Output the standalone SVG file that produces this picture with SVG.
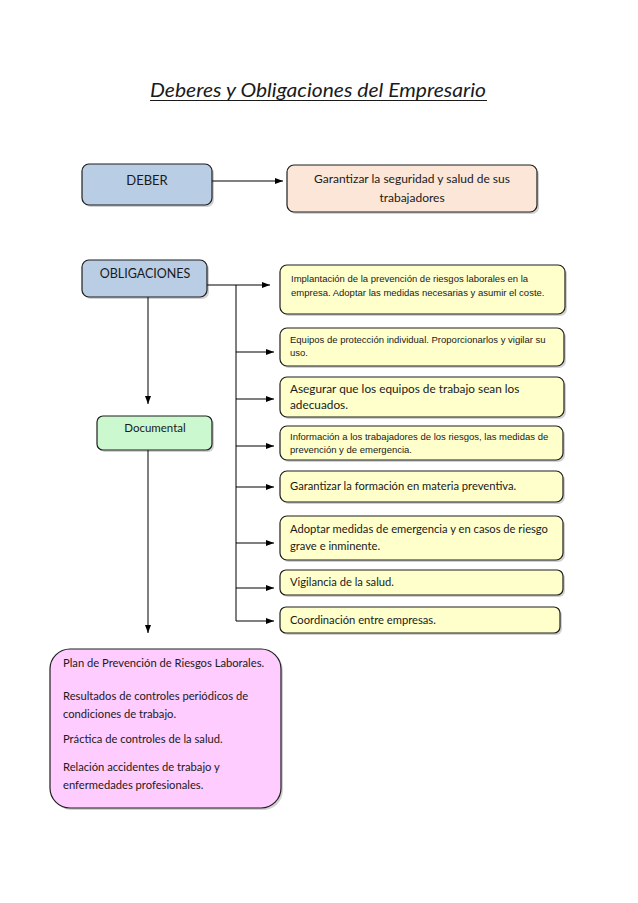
<svg xmlns="http://www.w3.org/2000/svg" width="638" height="903" viewBox="0 0 638 903">
<style>
.box{stroke:#1e1e1e;stroke-width:1.2}
.sh{fill:#000;opacity:0.18}
.blue{fill:#b9cde4}
.peach{fill:#fce6d8}
.yel{fill:#ffffcc}
.green{fill:#ccf8cf}
.pink{fill:#ffccff}
.cal{font-family:Lato,"Open Sans","Liberation Sans",sans-serif;fill:#1a1a1a}
.ari{font-family:"Liberation Sans",Arial,sans-serif;fill:#1a1a1a;font-size:9.5px}
.c11{font-size:11.2px}
.c115{font-size:11.8px}
.c12{font-size:12.5px}
.ln{fill:none;stroke:#000;stroke-width:1}
</style>
<defs>
<marker id="ah" markerWidth="8" markerHeight="6" refX="8" refY="3" orient="auto" markerUnits="userSpaceOnUse">
<path d="M0,0 L8,3 L0,6 Z" fill="#000"/>
</marker>
</defs>
<rect width="638" height="903" fill="#fff"/>
<g id="title">
<text x="318" y="97" text-anchor="middle" font-family="Lato,'Open Sans',sans-serif" font-style="italic" font-size="19" fill="#1a1a1a" textLength="336" lengthAdjust="spacingAndGlyphs">Deberes y Obligaciones del Empresario</text>
<line x1="150" y1="100.5" x2="487" y2="100.5" stroke="#1a1a1a" stroke-width="1"/>
</g>
<g id="connectors">
<line class="ln" x1="212" y1="181" x2="283" y2="181" marker-end="url(#ah)"/>
<line class="ln" x1="207" y1="285" x2="270" y2="285" marker-end="url(#ah)"/>
<line class="ln" x1="236" y1="285" x2="236" y2="621"/>
<line class="ln" x1="236" y1="352" x2="274" y2="352" marker-end="url(#ah)"/>
<line class="ln" x1="236" y1="399" x2="274" y2="399" marker-end="url(#ah)"/>
<line class="ln" x1="236" y1="446" x2="274" y2="446" marker-end="url(#ah)"/>
<line class="ln" x1="236" y1="487" x2="274" y2="487" marker-end="url(#ah)"/>
<line class="ln" x1="236" y1="543" x2="274" y2="543" marker-end="url(#ah)"/>
<line class="ln" x1="236" y1="588" x2="274" y2="588" marker-end="url(#ah)"/>
<line class="ln" x1="236" y1="621" x2="274" y2="621" marker-end="url(#ah)"/>
<line class="ln" x1="148" y1="297" x2="148" y2="404" marker-end="url(#ah)"/>
<line class="ln" x1="148" y1="450" x2="148" y2="633" marker-end="url(#ah)"/>
</g>
<g id="deber">
<rect class="sh" x="84" y="166" width="130" height="41" rx="7"/>
<rect class="box blue" x="82" y="164" width="130" height="41" rx="7"/>
<text class="cal" font-size="13" x="147" y="185" text-anchor="middle">DEBER</text>
</g>
<g id="garantizar">
<rect class="sh" x="289" y="167" width="250" height="47" rx="7"/>
<rect class="box peach" x="287" y="165" width="250" height="47" rx="7"/>
<text class="cal" font-size="12" x="412" y="183" text-anchor="middle">Garantizar la seguridad y salud de sus</text>
<text class="cal" font-size="12" x="412" y="202" text-anchor="middle">trabajadores</text>
</g>
<g id="obligaciones">
<rect class="sh" x="84" y="262" width="125" height="37" rx="7"/>
<rect class="box blue" x="82" y="260" width="125" height="37" rx="7"/>
<text class="cal c12" x="145" y="278" text-anchor="middle">OBLIGACIONES</text>
</g>
<g id="documental">
<rect class="sh" x="99" y="418" width="115" height="34" rx="6"/>
<rect class="box green" x="97" y="416" width="115" height="34" rx="6"/>
<text class="cal" font-size="11.5" x="155" y="432" text-anchor="middle">Documental</text>
</g>
<g id="o1">
<rect class="sh" x="282" y="267" width="285" height="49" rx="7"/>
<rect class="box yel" x="280" y="265" width="285" height="49" rx="7"/>
<text class="ari" x="291" y="282">Implantación de la prevención de riesgos laborales en la</text>
<text class="ari" x="291" y="296">empresa. Adoptar las medidas necesarias y asumir el coste.</text>
</g>
<g id="o2">
<rect class="sh" x="282" y="330" width="284" height="38" rx="7"/>
<rect class="box yel" x="280" y="328" width="284" height="38" rx="7"/>
<text class="ari" x="290" y="343">Equipos de protección individual. Proporcionarlos y vigilar su</text>
<text class="ari" x="290" y="356">uso.</text>
</g>
<g id="o3">
<rect class="sh" x="282" y="379" width="284" height="40" rx="7"/>
<rect class="box yel" x="280" y="377" width="284" height="40" rx="7"/>
<text class="cal c115" x="290" y="393">Asegurar que los equipos de trabajo sean los</text>
<text class="cal c115" x="290" y="409">adecuados.</text>
</g>
<g id="o4">
<rect class="sh" x="282" y="428" width="283" height="34" rx="7"/>
<rect class="box yel" x="280" y="426" width="283" height="34" rx="7"/>
<text class="ari" x="290" y="440">Información a los trabajadores de los riesgos, las medidas de</text>
<text class="ari" x="290" y="453">prevención y de emergencia.</text>
</g>
<g id="o5">
<rect class="sh" x="282" y="473" width="283" height="31" rx="7"/>
<rect class="box yel" x="280" y="471" width="283" height="31" rx="7"/>
<text class="cal c11" x="290" y="490">Garantizar la formación en materia preventiva.</text>
</g>
<g id="o6">
<rect class="sh" x="282" y="518" width="283" height="44" rx="7"/>
<rect class="box yel" x="280" y="516" width="283" height="44" rx="7"/>
<text class="cal c11" x="290" y="533">Adoptar medidas de emergencia y en casos de riesgo</text>
<text class="cal c11" x="290" y="550">grave e inminente.</text>
</g>
<g id="o7">
<rect class="sh" x="282" y="572" width="283" height="25" rx="6"/>
<rect class="box yel" x="280" y="570" width="283" height="25" rx="6"/>
<text class="cal c11" x="290" y="586">Vigilancia de la salud.</text>
</g>
<g id="o8">
<rect class="sh" x="282" y="609" width="280" height="26" rx="6"/>
<rect class="box yel" x="280" y="607" width="280" height="26" rx="6"/>
<text class="cal c11" x="290" y="624">Coordinación entre empresas.</text>
</g>
<g id="plan">
<rect class="sh" x="52" y="651" width="231" height="159" rx="20"/>
<rect class="box pink" x="50" y="649" width="231" height="159" rx="20"/>
<text class="cal c11" x="63" y="667">Plan de Prevención de Riesgos Laborales.</text>
<text class="cal c11" x="63" y="700">Resultados de controles periódicos de</text>
<text class="cal c11" x="63" y="718">condiciones de trabajo.</text>
<text class="cal c11" x="63" y="743">Práctica de controles de la salud.</text>
<text class="cal c11" x="63" y="771">Relación accidentes de trabajo y</text>
<text class="cal c11" x="63" y="789">enfermedades profesionales.</text>
</g>
</svg>
